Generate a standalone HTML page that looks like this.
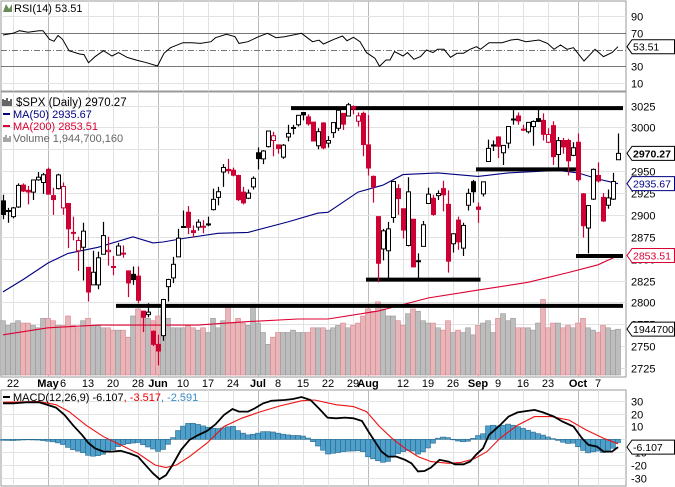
<!DOCTYPE html>
<html><head><meta charset="utf-8"><title>$SPX Daily</title>
<style>
html,body{margin:0;padding:0;background:#fff;}
svg{display:block;font-family:"Liberation Sans",Arial,sans-serif;}
</style></head>
<body>
<svg id="chart" width="675" height="487" viewBox="0 0 675 487" xmlns="http://www.w3.org/2000/svg">
<rect x="0" y="0" width="675" height="487" fill="#fff"/>
<g id="grid"></g>
<g id="rsi"></g>
<g id="price"></g>
<g id="macd"></g>
<g id="axes"></g>
<g id="legend">
  <text x="14" y="12" font-size="11" fill="#000">RSI(14) 53.51</text>
  <path d="M3 12 L6 4 L9 9 L12 4 L12 12 Z" fill="#6a8a5a"/>
  <text x="16" y="106" font-size="11.5" fill="#000">$SPX (Daily) 2970.27</text>
  <path d="M3 99 v7 M5 100 v6 M7 98 v8 M9 101 v5 M11 99 v7" stroke="#000" stroke-width="1.2"/>
  <line x1="3" y1="114" x2="10" y2="114" stroke="#000080" stroke-width="2"/>
  <text x="13" y="118" font-size="11" fill="#000080">MA(50) 2935.67</text>
  <line x1="3" y1="126" x2="10" y2="126" stroke="#dd0033" stroke-width="2"/>
  <text x="13" y="130" font-size="11" fill="#dd0033">MA(200) 2853.51</text>
  <path d="M4 142 v-5 M6 142 v-7 M8 142 v-4 M10 142 v-6" stroke="#888" stroke-width="1.5"/>
  <text x="13" y="142" font-size="11" fill="#666">Volume 1,944,700,160</text>
  <line x1="3" y1="397" x2="10" y2="397" stroke="#000" stroke-width="2"/>
  <text x="13" y="401" font-size="11"><tspan fill="#000">MACD(12,26,9) -6.107</tspan><tspan fill="#e00">, -3.517</tspan><tspan fill="#3a8ec8">, -2.591</tspan></text>
</g>
</svg>
<script>
// ---- data ----
const dates = ["Apr17","Apr18","Apr22","Apr23","Apr24","Apr25","Apr26","Apr29","Apr30","May1","May2","May3","May6","May7","May8","May9","May10","May13","May14","May15","May16","May17","May20","May21","May22","May23","May24","May28","May29","May30","May31","Jun3","Jun4","Jun5","Jun6","Jun7","Jun10","Jun11","Jun12","Jun13","Jun14","Jun17","Jun18","Jun19","Jun20","Jun21","Jun24","Jun25","Jun26","Jun27","Jun28","Jul1","Jul2","Jul3","Jul5","Jul8","Jul9","Jul10","Jul11","Jul12","Jul15","Jul16","Jul17","Jul18","Jul19","Jul22","Jul23","Jul24","Jul25","Jul26","Jul29","Jul30","Jul31","Aug1","Aug2","Aug5","Aug6","Aug7","Aug8","Aug9","Aug12","Aug13","Aug14","Aug15","Aug16","Aug19","Aug20","Aug21","Aug22","Aug23","Aug26","Aug27","Aug28","Aug29","Aug30","Sep3","Sep4","Sep5","Sep6","Sep9","Sep10","Sep11","Sep12","Sep13","Sep16","Sep17","Sep18","Sep19","Sep20","Sep23","Sep24","Sep25","Sep26","Sep27","Sep30","Oct1","Oct2","Oct3","Oct4","Oct7","Oct8","Oct9","Oct10","Oct11"];
const closes = [2900.45,2905.03,2907.97,2933.68,2927.25,2926.17,2939.88,2943.03,2945.83,2923.73,2917.52,2945.64,2932.47,2884.05,2879.42,2870.72,2881.40,2811.87,2834.41,2850.96,2876.32,2859.53,2840.23,2864.36,2856.27,2822.24,2826.06,2802.39,2783.02,2788.86,2752.06,2744.45,2803.27,2826.15,2843.49,2873.34,2886.73,2885.72,2879.84,2891.64,2886.98,2889.67,2917.75,2926.46,2954.18,2950.46,2945.35,2917.38,2913.78,2924.92,2941.76,2964.33,2973.01,2995.82,2990.41,2975.95,2979.63,2993.07,2999.91,3013.77,3014.30,3004.04,2984.42,2995.11,2976.61,2985.03,3005.47,3019.56,3003.67,3025.86,3020.97,3013.18,2980.38,2953.56,2932.05,2844.74,2881.77,2883.98,2938.09,2918.65,2882.70,2926.32,2840.60,2847.60,2888.68,2923.65,2900.51,2924.43,2922.95,2847.11,2878.38,2869.16,2887.94,2924.58,2926.46,2906.27,2937.78,2976.00,2978.71,2978.43,2979.39,3000.93,3009.57,3007.39,2997.96,3005.70,3006.73,3006.79,2992.07,2991.78,2966.60,2984.87,2977.62,2961.79,2976.74,2940.25,2887.61,2910.63,2952.01,2938.79,2893.06,2919.40,2938.13,2970.27];
const opens = [2916,2904,2898,2909,2934,2928,2926,2940,2937,2952,2922,2930,2908,2913,2880,2859,2863,2840,2820,2820,2855,2858,2841,2854,2856,2836,2832,2830,2790,2786,2767,2752,2762,2818,2828,2852,2886,2903,2882,2886,2886,2889,2906,2920,2949,2952,2951,2945,2926,2919,2932,2971,2964,2978,2985,2980,2966,2989,2999,3003,3017,3012,3006,2979,3005,2982,2994,2999,3016,3013,3024,3007,3016,2980,2944,2898,2861,2859,2897,2930,2907,2865,2895,2847,2864,2913,2919,2922,2930,2912,2867,2894,2862,2911,2938,2909,2924,2961,2980,2989,2971,2982,3009,3013,2997,2995,3001,3010,3008,2983,3002,2969,2985,2985,2968,2983,2924,2885,2918,2945,2920,2911,2918,2963];
const highs = [2923,2908,2909,2936,2936,2933,2940,2949,2948,2954,2931,2947,2937,2913,2898,2875,2891,2840,2859,2858,2892,2875,2853,2868,2865,2836,2841,2841,2790,2799,2768,2763,2804,2827,2852,2884,2905,2910,2888,2895,2894,2898,2930,2932,2958,2964,2954,2946,2932,2929,2944,2977,2974,2996,2995,2980,2981,3003,3003,3014,3017,3015,3006,2999,3006,2990,3005,3019,3016,3028,3025,3017,3018,3014,2945,2898,2884,2892,2939,2935,2907,2943,2895,2856,2893,2931,2923,2928,2939,2928,2879,2898,2891,2930,2940,2914,2938,2986,2985,2990,2979,3000,3021,3017,3003,3006,3008,3022,3016,2999,3007,2989,2988,2987,2983,2993,2925,2911,2953,2960,2925,2929,2948,2993];
const lows = [2895,2891,2896,2908,2926,2912,2917,2939,2924,2923,2900,2929,2900,2862,2871,2836,2825,2801,2820,2815,2855,2842,2831,2854,2851,2806,2820,2799,2766,2783,2750,2728,2756,2801,2822,2852,2885,2878,2874,2882,2879,2887,2905,2911,2932,2947,2944,2916,2912,2918,2929,2952,2958,2977,2967,2970,2964,2984,2992,3001,3008,3002,2984,2975,2975,2977,2988,2996,2997,3013,3015,3001,2967,2945,2914,2823,2848,2826,2891,2900,2873,2864,2840,2825,2864,2913,2899,2917,2904,2834,2857,2860,2853,2905,2914,2891,2921,2961,2973,2965,2957,2976,3003,3003,2996,2993,2979,3006,2985,2982,2957,2953,2970,2945,2967,2938,2874,2856,2917,2937,2892,2907,2917,2963];
const volumes = [2.3,2.1,2.2,2.3,2.2,2.2,2.1,2.0,2.4,2.4,2.3,2.1,2.1,2.5,2.1,2.0,2.3,2.4,2.1,2.1,2.0,2.0,1.9,1.9,1.9,1.6,2.5,2.8,2.6,2.4,2.3,2.5,2.8,2.4,2.0,2.0,2.0,2.1,2.0,1.9,2.0,1.8,2.4,2.0,2.3,3.0,2.2,2.4,2.2,2.1,3.0,2.2,1.8,1.3,1.6,1.8,1.8,1.8,1.9,1.8,1.8,1.8,2.0,2.0,2.0,1.9,2.0,2.1,2.2,2.0,2.1,2.2,2.5,2.8,2.7,3.1,2.8,2.5,2.5,2.3,2.1,2.6,2.8,2.7,2.3,2.2,2.2,2.0,1.9,2.3,1.8,1.9,1.8,2.0,1.7,2.1,2.2,2.3,1.8,2.4,2.6,2.3,2.4,2.0,2.0,2.0,1.9,2.2,3.2,2.0,2.2,2.2,2.0,2.1,2.0,2.2,2.4,2.0,1.9,1.8,2.1,2.0,1.9,1.94];
const ma50Days = [0,4,9,13,19,26,30,32,36,43,49,57,63,65,71,76,80,87,95,101,111,115,119,123];
const ma50Vals = [2812,2826,2845,2856,2863,2875,2868,2869,2873,2879,2880,2892,2902,2903,2926,2934,2946,2948,2944,2948,2951,2948,2941,2935.67];
const ma200Days = [0,9,19,29,39,49,59,65,75,85,95,105,113,119,123];
const ma200Vals = [2763,2771,2774,2774,2774,2778,2781,2781,2790,2805,2814,2823,2834,2843,2853.51];
const rsiDays = [0,2,3.3,5,7.2,8,9.3,10.2,11,11.9,13.2,15.3,16.2,17.1,18.4,20.1,21.8,23.1,24.8,26.6,28.7,30.9,32.2,33.5,36,37.8,39.5,41.6,42.5,44.7,46.4,47.2,49,51.1,52.9,54.6,56.3,59.7,61.9,63.2,64.1,66.2,67.9,68.8,70.1,71.4,72.7,74.4,75.3,76.6,77.4,78.3,80,80.9,82.2,83.5,84.7,86,86.9,88.2,89.5,90.8,92.1,93.4,94.7,95.5,97.2,99.8,101.6,102.9,104.6,107.2,108.9,110.2,111.5,112.8,114.1,116.2,118.4,120.1,121.8,123];
const rsiVals = [67.6,69.6,72.8,71,72.8,72.8,62.4,60,67,62.4,48.7,44.8,44,34.3,41.5,48.7,42.4,46.4,40.8,37.6,34.3,30.4,45.6,52.4,58.4,58.4,57.5,59.6,64.4,68.4,65.6,57.5,59.6,65.6,69.6,64.4,65.6,69.6,59.6,61.4,56.8,62.4,66.4,60.8,64.8,59.6,46.4,39.6,30,37.6,37.6,47.6,42.4,46.4,38.4,41.6,49.6,46.4,50.4,50.4,40.8,45.6,45.6,50.4,53.6,50.4,58.4,58.4,61.6,62.4,59.6,61.6,57.5,50.4,55.6,50.4,52.4,36.4,50.4,41.6,46.4,53.51];
const macdDays = [0,2,4.6,7.2,8.9,10.6,12.3,14,15.8,17.1,18.4,20.1,21.8,23.5,25.3,27,28.7,30,31.3,32.6,33.9,35.6,37.3,39.1,40.8,42.5,44.2,45.9,47.2,49,50.3,52,53.7,56.3,58,59.7,61.5,63.2,64.9,66.6,68.4,70.1,71.8,73.1,74.4,75.7,77,78.7,80.4,81.7,83,84.3,85.6,87.3,89.1,90.4,92.1,93.4,94.7,96,97.2,99.4,101.1,102.9,104.6,106.3,108,110.2,111.9,114.1,115.8,117.1,118.8,120.1,121.8,123];
const macdVals = [28,28,28.8,28.8,26.8,24.7,19,11,3.4,-3,-7,-9.6,-9.6,-9,-11,-13.5,-21,-26.5,-31,-28,-20,-8.3,-0.5,3.4,6.5,11.7,19,23.6,21.6,21.6,24,28,30,30.6,31.4,33,30.6,24,16.9,16.4,16.9,16.4,14.3,6,-1.8,-9.6,-13.5,-13.5,-16,-18.7,-25,-24.7,-22,-16,-17.4,-19.5,-19.5,-17.4,-11.7,-7,3.4,11,17.7,21,22,22.9,21,17.7,13.8,10,0.8,-4.4,-5.7,-9.6,-9.6,-6.107];
const signalDays = [0,7.2,10.6,13.2,16.6,20.1,23.5,27,30.4,32.6,34.7,37.3,40.8,44.2,47.7,51.1,55.4,59.7,62.3,66.6,70.1,72.7,75.3,77.8,80.4,83,85.6,89.1,91.6,94.2,96.8,99.4,102.9,106.3,109.7,113.2,116.6,120.1,123];
const signalVals = [28.8,29.4,27,21.6,11,2,-4.4,-11,-20,-22,-20,-13.5,-3,10,16.4,21,26,30,30.6,27,25.5,21.6,10,0.8,-7,-13.5,-17.4,-18.7,-18,-15.3,-9.6,0.8,11,17.7,17.7,15,7.3,0.8,-3.517];
const supportPrices = [3022,2796,2826,2952,2853];
const supportStart = [58,23,73,95,115];
const supportEnd = [124,124,95.5,115.5,124];
const priceTicks = [3025,3000,2975,2950,2925,2900,2875,2850,2825,2800,2775,2750,2725];
const rsiTicks = [90,70,50,30,10];
const macdTicks = [30,20,10,0,-10,-20,-30];
const tickIdx = [2,9,12,17,22,27,31,36,41,46,51,55,60,65,70,73,80,85,90,95,99,104,109,115,119];
const tickLabels = ["22","May","6","13","20","28","Jun","10","17","24","Jul","8","15","22","29","Aug","12","19","26","Sep","9","16","23","Oct","7"];
const tickMonth = [0,1,0,0,0,0,1,0,0,0,1,0,0,0,0,1,0,0,0,1,0,0,0,1,0];

// ---- scales ----
const PLOT_R = 626;
const xScale = i => 3 + i * 5;
const yPrice = p => 105.5 + (3025 - p) * 0.875;
const yRsi = v => 33 + (70 - v) * 0.8325;
const yMacd = v => 439.3 - v * 1.283;
const yVol = v => 375 - v * 23.6;
const NS = "http://www.w3.org/2000/svg";
function mk(tag, attrs, parent) {
  const e = document.createElementNS(NS, tag);
  for (const k in attrs) e.setAttribute(k, attrs[k]);
  parent.appendChild(e);
  return e;
}
function interp(ds, vs, d) {
  if (d <= ds[0]) return vs[0];
  for (let k = 1; k < ds.length; k++) {
    if (d <= ds[k]) { const t = (d - ds[k-1]) / (ds[k] - ds[k-1]); return vs[k-1] + t * (vs[k] - vs[k-1]); }
  }
  return vs[vs.length - 1];
}
const grid = document.getElementById('grid');
const rsiG = document.getElementById('rsi');
const priceG = document.getElementById('price');
const macdG = document.getElementById('macd');
const axes = document.getElementById('axes');

[[1,1,91],[1,92,377],[1,390,486]].forEach((p, k) => {
  const r = mk('rect', {x: p[0], y: p[1], width: PLOT_R - p[0], height: p[2] - p[1], fill: 'none', stroke: '#999', 'stroke-width': 1}, grid);
  
  
});

tickIdx.forEach((d, k) => {
  const x = xScale(d) + 0.5;
  [[1,91],[92,377],[390,486]].forEach(seg => {
    const l = mk('line', {x1: x, x2: x, y1: seg[0], y2: seg[1], stroke: tickMonth[k] ? '#bbb' : '#e2e2e2', 'stroke-width': 1}, grid);
    
    
  });
  const t = mk('text', {x: xScale(d), y: 387, 'font-size': 11, 'text-anchor': 'middle', fill: '#000', 'font-weight': tickMonth[k] ? 'bold' : 'normal'}, axes);
  t.textContent = tickLabels[k];
  
  
});

priceTicks.forEach(p => {
  const y = Math.round(yPrice(p)) + 0.5;
  const l = mk('line', {x1: 1, x2: PLOT_R, y1: y, y2: y, stroke: '#e2e2e2'}, grid);
  
  
  const t = mk('text', {x: 631, y: y + 4, 'font-size': 11, fill: '#000'}, axes);
  t.textContent = p;
  
  
});
rsiTicks.forEach(v => {
  const y = Math.round(yRsi(v)) + 0.5;
  const strong = (v === 70 || v === 30);
  const l = mk('line', {x1: 1, x2: PLOT_R, y1: y, y2: y, stroke: strong ? '#777' : (v === 50 ? '#777' : '#e2e2e2'), 'stroke-dasharray': v === 50 ? '6,2,1,2' : 'none'}, grid);
  
  
  if (v !== 50) {
    const t = mk('text', {x: 631, y: y + 4, 'font-size': 11, fill: '#000'}, axes);
    t.textContent = v;
    
    
  }
});
macdTicks.forEach(v => {
  const y = Math.round(yMacd(v)) + 0.5;
  const l = mk('line', {x1: 1, x2: PLOT_R, y1: y, y2: y, stroke: '#e2e2e2'}, grid);
  
  
  if (v !== 0) {
    const t = mk('text', {x: 631, y: y + 4, 'font-size': 11, fill: '#000'}, axes);
    t.textContent = v;
    
    
  }
});

{
  const pts = rsiDays.map((d, k) => xScale(d).toFixed(1) + ',' + yRsi(rsiVals[k]).toFixed(1)).join(' ');
  const pl = mk('polyline', {points: pts, fill: 'none', stroke: '#000', 'stroke-width': 1}, rsiG);
  
  
}

volumes.forEach((v, i) => {
  const down = i > 0 && closes[i] < closes[i-1];
  const y = yVol(v);
  const r = mk('rect', {x: xScale(i) - 2.5, y: y, width: 5, height: 375 - y, fill: down ? '#e8b5b9' : '#bdbdbd', stroke: down ? '#d9848f' : '#999', 'stroke-width': 0.6}, priceG);
  
  
});

{
  const p1 = ma200Days.map((d, k) => xScale(d).toFixed(1) + ',' + yPrice(ma200Vals[k]).toFixed(1)).join(' ');
  const l1 = mk('polyline', {points: p1, fill: 'none', stroke: '#dd0033', 'stroke-width': 1.1}, priceG);
  
  
  const p2 = ma50Days.map((d, k) => xScale(d).toFixed(1) + ',' + yPrice(ma50Vals[k]).toFixed(1)).join(' ');
  const l2 = mk('polyline', {points: p2, fill: 'none', stroke: '#000080', 'stroke-width': 1.1}, priceG);
  
  
}

supportPrices.forEach((p, k) => {
  const y = yPrice(p);
  const l = mk('line', {x1: xScale(supportStart[k]) - 2, x2: Math.min(PLOT_R, xScale(supportEnd[k])), y1: y, y2: y, stroke: '#000', 'stroke-width': 4}, priceG);
  
  
});

closes.forEach((c, i) => {
  const o = opens[i], h = highs[i], lo = lows[i];
  const down = i > 0 && c < closes[i-1];
  const col = down ? '#cc0033' : '#000';
  const x = xScale(i);
  const g = mk('g', {}, priceG);
  
  
  mk('line', {x1: x + 0.5, x2: x + 0.5, y1: yPrice(h), y2: yPrice(lo), stroke: col, 'stroke-width': 1.2}, g);
  const top = yPrice(Math.max(o, c)), bot = yPrice(Math.min(o, c));
  const filled = c < o;
  mk('rect', {x: x - 1.5, y: top, width: 4, height: Math.max(1, bot - top), fill: filled ? col : '#fff', stroke: col, 'stroke-width': 1}, g);
});

closes.forEach((c, i) => {
  const hv = interp(macdDays, macdVals, i) - interp(signalDays, signalVals, i);
  const y0 = yMacd(0), y1 = yMacd(hv);
  const r = mk('rect', {x: xScale(i) - 2.5, y: Math.min(y0, y1), width: 5, height: Math.max(0.5, Math.abs(y1 - y0)), fill: '#4f9fcb', stroke: '#2b6a8f', 'stroke-width': 0.6}, macdG);
  
  
});
{
  const ps = signalDays.map((d, k) => xScale(d).toFixed(1) + ',' + yMacd(signalVals[k]).toFixed(1)).join(' ');
  const ls = mk('polyline', {points: ps, fill: 'none', stroke: '#ee1111', 'stroke-width': 1.1}, macdG);
  
  
  const pm = macdDays.map((d, k) => xScale(d).toFixed(1) + ',' + yMacd(macdVals[k]).toFixed(1)).join(' ');
  const lm = mk('polyline', {points: pm, fill: 'none', stroke: '#000', 'stroke-width': 1.8}, macdG);
  
  
}

function tag(y, txt, col, bold, name) {
  const g = mk('g', {}, axes);
  
  
  mk('path', {d: `M627 ${y} L632 ${y-7} L674.5 ${y-7} L674.5 ${y+7} L632 ${y+7} Z`, fill: '#fff', stroke: col, 'stroke-width': 1}, g);
  const t = mk('text', {x: 633, y: y + 4, 'font-size': 10.5, fill: bold ? '#000' : col, 'font-weight': bold ? 'bold' : 'normal'}, g);
  t.textContent = txt;
}
tag(yRsi(53.51), '53.51', '#000', false, 'rsi-value-tag');
tag(yPrice(2970.27), '2970.27', '#000', true, 'price-value-tag');
tag(yPrice(2935.67), '2935.67', '#000080', false, 'ma50-value-tag');
tag(yPrice(2853.51), '2853.51', '#dd0033', false, 'ma200-value-tag');
tag(yVol(1.9447), '1944700', '#000', false, 'volume-value-tag');
tag(yMacd(-6.107), '-6.107', '#000', false, 'macd-value-tag');
</script>
</body></html>
